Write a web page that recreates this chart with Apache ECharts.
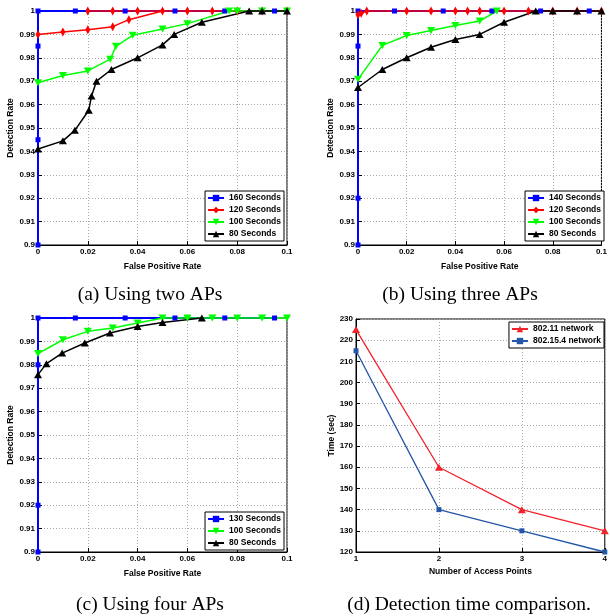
<!DOCTYPE html>
<html>
<head>
<meta charset="utf-8">
<script src="https://cdn.jsdelivr.net/npm/echarts@6/dist/echarts.min.js"></script>
<style>
html,body{margin:0;padding:0;background:#fff;}
#chart{width:610px;height:616px;}
</style>
</head>
<body>
<div id="chart"></div>
<script>
// ---------- tick labels ----------
const fprTicks = ['0', '0.02', '0.04', '0.06', '0.08', '0.1'];
const drTicks = ['0.9', '0.91', '0.92', '0.93', '0.94', '0.95', '0.96', '0.97', '0.98', '0.99', '1'];
const apTicks = ['1', '2', '3', '4'];
const timeTicks = ['120', '130', '140', '150', '160', '170', '180', '190', '200', '210', '220', '230'];

// ---------- (a) Using two APs ----------
const a160 = [[0,0.9],[0,0.945],[0,0.985],[0,1],[0.015,1],[0.035,1],[0.055,1],[0.075,1],[0.095,1]];
const a120 = [[0,0.990],[0.01,0.991],[0.02,0.992],[0.03,0.9933],[0.0365,0.9963],[0.05,1],[0.04,1],[0.03,1],[0.02,1],[0.06,1],[0.07,1],[0.08,1],[0.09,1],[0.1,1]];
const a100 = [[0,0.9693],[0.01,0.9724],[0.02,0.9744],[0.029,0.9794],[0.0313,0.9849],[0.038,0.9896],[0.05,0.9923],[0.06,0.9946],[0.0768,1],[0.08,1],[0.09,1],[0.1,1]];
const a80 = [[0,0.941],[0.01,0.9445],[0.0148,0.949],[0.0204,0.9576],[0.0215,0.9637],[0.0235,0.970],[0.0295,0.975],[0.04,0.980],[0.05,0.9855],[0.0547,0.990],[0.0658,0.9952],[0.0848,1],[0.09,1],[0.1,1]];

// ---------- (b) Using three APs ----------
const b140 = [[0,0.9],[0,0.92],[0,0.985],[0,1],[0.015,1],[0.035,1],[0.055,1],[0.075,1],[0.095,1]];
const b120 = [[0,0.9984],[0.0013,0.999],[0.0036,1],[0.02,1],[0.03,1],[0.04,1],[0.045,1],[0.05,1],[0.06,1],[0.07,1],[0.08,1],[0.09,1],[0.1,1]];
const b100 = [[0,0.9708],[0.01,0.9853],[0.02,0.9895],[0.03,0.9917],[0.04,0.9938],[0.05,0.9957],[0.057,1]];
const b80 = [[0,0.9673],[0.01,0.975],[0.02,0.980],[0.03,0.9845],[0.04,0.9878],[0.05,0.990],[0.06,0.9952],[0.073,1],[0.08,1],[0.09,1],[0.1,1]];

// ---------- (c) Using four APs ----------
const c130 = [[0,0.9],[0,0.92],[0,0.98],[0,1],[0.015,1],[0.035,1],[0.055,1],[0.075,1],[0.095,1]];
const c100 = [[0,0.9848],[0.01,0.9907],[0.02,0.9943],[0.03,0.9957],[0.04,0.9979],[0.05,1],[0.06,1],[0.07,1],[0.08,1],[0.09,1],[0.1,1]];
const c80 = [[0,0.9758],[0.0034,0.9805],[0.0097,0.985],[0.0188,0.9893],[0.0289,0.9936],[0.04,0.9964],[0.05,0.9981],[0.0658,1]];

// ---------- (d) Detection time comparison ----------
const apCounts = [1, 2, 3, 4];
const t80211 = [225, 160, 140, 130];
const t802154 = [215, 140, 130, 120];

const captions = ['(a) Using two APs', '(b) Using three APs', '(c) Using four APs', '(d) Detection time comparison.'];

// ---------- styling ----------
const SANS = "'Liberation Sans', Arial, sans-serif";
const SERIF = "'Liberation Serif', 'Times New Roman', serif";
const BLUE = '#0000ff', RED = '#ff0000', GREEN = '#00ff00', BLACK = '#000000';

const grids = [
  {left: 38, top: 11, width: 249, height: 234},
  {left: 358, top: 11, width: 248, height: 234},
  {left: 38, top: 318, width: 249, height: 234},
  {left: 356, top: 319, width: 251, height: 233}
].map(g => Object.assign({show: true, borderColor: '#000', borderWidth: 1, backgroundColor: '#fff'}, g));

const labelStyle = {color: '#000', fontSize: 8, fontWeight: 'bold', fontFamily: SANS};
const nameStyle = {color: '#000', fontSize: 8.5, fontWeight: 'bold', fontFamily: SANS};
const splitLine = {show: true, lineStyle: {color: '#a8a8a8', type: [1, 2], width: 1}};
const axisLine = {show: true, lineStyle: {color: '#000', width: 1}};
const axisTick = {show: true, inside: true, length: 4, lineStyle: {color: '#000'}};

function fprAxis(i) {
  return {
    type: 'value', gridIndex: i, min: 0, max: 0.1, interval: 0.02,
    name: 'False Positive Rate', nameLocation: 'middle', nameGap: 17, nameTextStyle: nameStyle,
    axisLine, axisTick, splitLine,
    axisLabel: Object.assign({margin: 3, formatter: v => fprTicks[Math.round(v / 0.02)]}, labelStyle)
  };
}
function drAxis(i) {
  return {
    type: 'value', gridIndex: i, min: 0.9, max: 1, interval: 0.01,
    name: 'Detection Rate', nameLocation: 'middle', nameGap: 16, nameTextStyle: nameStyle,
    axisLine, axisTick, splitLine,
    axisLabel: Object.assign({margin: 3, formatter: v => drTicks[Math.round((v - 0.9) / 0.01)]}, labelStyle)
  };
}

const xAxes = [fprAxis(0), fprAxis(1), fprAxis(2), {
  type: 'value', gridIndex: 3, min: 1, max: 4, interval: 1,
  name: 'Number of Access Points', nameLocation: 'middle', nameGap: 15, nameTextStyle: nameStyle,
  axisLine, axisTick, splitLine,
  axisLabel: Object.assign({margin: 3, formatter: v => apTicks[Math.round(v - 1)]}, labelStyle)
}];
const yAxes = [drAxis(0), drAxis(1), drAxis(2), {
  type: 'value', gridIndex: 3, min: 120, max: 230, interval: 10,
  name: 'Time (sec)', nameLocation: 'middle', nameGap: 18, nameTextStyle: nameStyle,
  axisLine, axisTick, splitLine,
  axisLabel: Object.assign({margin: 3, formatter: v => timeTicks[Math.round((v - 120) / 10)]}, labelStyle)
}];

const SYM = {
  square: {symbol: 'rect', symbolSize: 5},
  diamond: {symbol: 'diamond', symbolSize: [5, 9]},
  down: {symbol: 'triangle', symbolSize: [8, 7], symbolRotate: 180},
  up: {symbol: 'triangle', symbolSize: [8, 7]}
};

function line(name, data, gi, color, sym, width) {
  return Object.assign({
    name, type: 'line', data, xAxisIndex: gi, yAxisIndex: gi,
    showAllSymbol: true, clip: false, animation: false,
    lineStyle: {color, width: width || 1.5},
    itemStyle: {color, borderWidth: 0},
    emphasis: {disabled: true}
  }, SYM[sym]);
}

const series = [
  line('a|160 Seconds', a160, 0, BLUE, 'square', 2),
  line('a|120 Seconds', a120, 0, RED, 'diamond'),
  line('a|100 Seconds', a100, 0, GREEN, 'down'),
  line('a|80 Seconds', a80, 0, BLACK, 'up'),
  line('b|140 Seconds', b140, 1, BLUE, 'square', 2),
  line('b|120 Seconds', b120, 1, RED, 'diamond'),
  line('b|100 Seconds', b100, 1, GREEN, 'down'),
  line('b|80 Seconds', b80, 1, BLACK, 'up'),
  line('c|130 Seconds', c130, 2, BLUE, 'square', 2),
  line('c|100 Seconds', c100, 2, GREEN, 'down'),
  line('c|80 Seconds', c80, 2, BLACK, 'up'),
  line('d|802.11 network', apCounts.map((x, i) => [x, t80211[i]]), 3, '#f0222a', 'up', 1.3),
  line('d|802.15.4 network', apCounts.map((x, i) => [x, t802154[i]]), 3, '#2456a8', 'square', 1.3)
];

function legend(prefix, pos) {
  return Object.assign({
    orient: 'vertical', selectedMode: false,
    data: series.filter(s => s.name.startsWith(prefix + '|')).map(s => s.name),
    formatter: n => n.split('|')[1],
    borderColor: '#000', borderWidth: 1, backgroundColor: '#fff',
    padding: [2, 3, 2, 2], itemGap: 2, itemWidth: 16, itemHeight: 8,
    textStyle: {color: '#000', fontSize: 8.5, fontWeight: 'bold', fontFamily: SANS, lineHeight: 10}
  }, pos);
}

const legends = [
  legend('a', {right: 326, bottom: 375}),
  legend('b', {right: 6, bottom: 375}),
  legend('c', {right: 326, bottom: 66}),
  legend('d', {right: 6, top: 322})
];

const capPos = [[150, 295], [460, 295], [150, 605], [469, 605]];
const graphic = captions.map((t, i) => ({
  type: 'text', x: capPos[i][0], y: capPos[i][1],
  style: {text: t, fill: '#000', font: '19.5px ' + SERIF, textAlign: 'center', textVerticalAlign: 'middle'}
}));

const chart = echarts.init(document.getElementById('chart'), null, {renderer: 'canvas'});
chart.setOption({
  animation: false,
  backgroundColor: '#fff',
  grid: grids,
  xAxis: xAxes,
  yAxis: yAxes,
  legend: legends,
  series,
  graphic
});
</script>
</body>
</html>
